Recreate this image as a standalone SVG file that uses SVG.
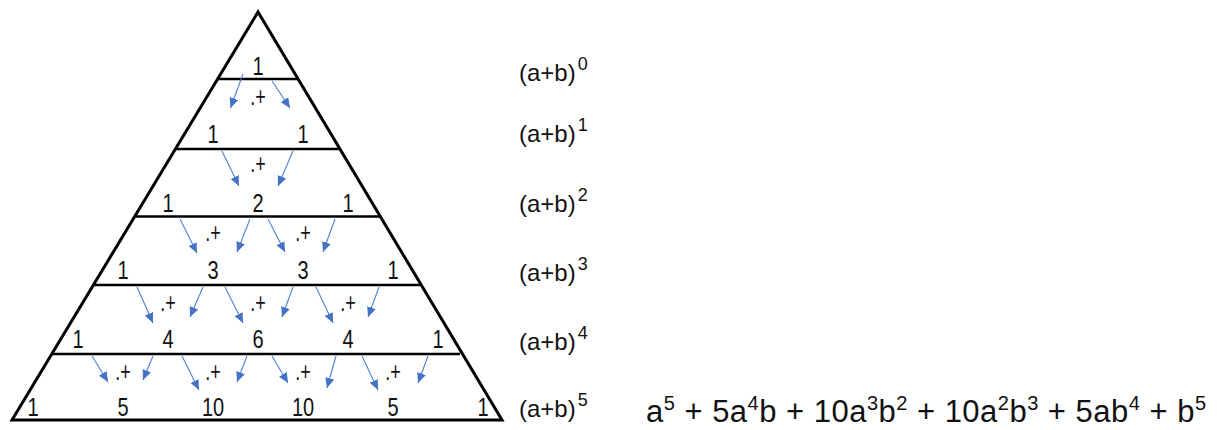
<svg xmlns="http://www.w3.org/2000/svg" width="1220" height="430" viewBox="0 0 1220 430">
<style>
.edge{fill:none;stroke:#000;stroke-width:3;stroke-linejoin:miter}
.rule{stroke:#000;stroke-width:2.6}
.num{font-family:"Liberation Sans",Arial,sans-serif;font-size:25px;fill:#111;text-anchor:middle}
.op{font-family:"Liberation Sans",Arial,sans-serif;font-size:25px;fill:#111;text-anchor:middle}
.lbl{font-family:"Liberation Sans",Arial,sans-serif;font-size:24px;fill:#111}
.sup{font-size:18px}
.f{font-family:"Liberation Sans",Arial,sans-serif;font-size:31px;fill:#111;white-space:pre}
.fs{font-size:20px}
.arr{stroke:#4f7fd0;stroke-width:1.1;fill:none;marker-end:url(#ah)}
</style>
<defs>
<marker id="ah" markerUnits="userSpaceOnUse" markerWidth="11" markerHeight="10" refX="10" refY="4.5" orient="auto"><path d="M0,0 L10,4.5 L0,9 z" fill="#4472C4"/></marker>
</defs>
<rect width="1220" height="430" fill="#fff"/>
<g id="triangle">
<polygon class="edge" points="258,12 12,420 502,420"/>
<line class="rule" x1="218" y1="79" x2="299" y2="79"/>
<line class="rule" x1="175" y1="149" x2="339" y2="149"/>
<line class="rule" x1="135" y1="216.5" x2="380" y2="216.5"/>
<line class="rule" x1="93" y1="285" x2="421" y2="285"/>
<line class="rule" x1="52" y1="354" x2="460" y2="354"/>
</g>
<g id="connectors">
<line class="arr" x1="243" y1="74" x2="230.5" y2="108"/>
<line class="arr" x1="272" y1="81" x2="290" y2="108"/>
<line class="arr" x1="222" y1="151" x2="239" y2="186"/>
<line class="arr" x1="293" y1="151" x2="278" y2="186"/>
<line class="arr" x1="180" y1="219" x2="197" y2="253"/>
<line class="arr" x1="250" y1="219" x2="237" y2="252"/>
<line class="arr" x1="268" y1="219" x2="285" y2="252"/>
<line class="arr" x1="335" y1="219" x2="323" y2="252"/>
<line class="arr" x1="137" y1="287" x2="153" y2="323"/>
<line class="arr" x1="203" y1="287" x2="190" y2="317"/>
<line class="arr" x1="225" y1="287" x2="243" y2="323"/>
<line class="arr" x1="293" y1="287" x2="282" y2="317"/>
<line class="arr" x1="316" y1="287" x2="333" y2="323"/>
<line class="arr" x1="379" y1="287" x2="368" y2="317"/>
<line class="arr" x1="92" y1="356" x2="108" y2="382"/>
<line class="arr" x1="153" y1="356" x2="143" y2="380"/>
<line class="arr" x1="182" y1="356" x2="199" y2="390"/>
<line class="arr" x1="247" y1="356" x2="237" y2="382"/>
<line class="arr" x1="272" y1="356" x2="288" y2="383"/>
<line class="arr" x1="336" y1="356" x2="327" y2="388"/>
<line class="arr" x1="362" y1="356" x2="378" y2="390"/>
<line class="arr" x1="428" y1="356" x2="418" y2="383"/>
</g>
<g id="ops">
<text class="op" transform="translate(258,105) scale(0.72,1)">.+</text>
<text class="op" transform="translate(258,172) scale(0.72,1)">.+</text>
<text class="op" transform="translate(213,241) scale(0.72,1)">.+</text>
<text class="op" transform="translate(303,241) scale(0.72,1)">.+</text>
<text class="op" transform="translate(168,311) scale(0.72,1)">.+</text>
<text class="op" transform="translate(258,311) scale(0.72,1)">.+</text>
<text class="op" transform="translate(348,311) scale(0.72,1)">.+</text>
<text class="op" transform="translate(123,380) scale(0.72,1)">.+</text>
<text class="op" transform="translate(213,380) scale(0.72,1)">.+</text>
<text class="op" transform="translate(303,380) scale(0.72,1)">.+</text>
<text class="op" transform="translate(393,380) scale(0.72,1)">.+</text>
</g>
<g id="r0-0"><text class="num" transform="translate(258,75) scale(0.8,1)">1</text></g>
<g id="r1-0"><text class="num" transform="translate(213,143) scale(0.8,1)">1</text></g>
<g id="r1-1"><text class="num" transform="translate(303,143) scale(0.8,1)">1</text></g>
<g id="r2-0"><text class="num" transform="translate(168,212) scale(0.8,1)">1</text></g>
<g id="r2-1"><text class="num" transform="translate(258,212) scale(0.8,1)">2</text></g>
<g id="r2-2"><text class="num" transform="translate(348,212) scale(0.8,1)">1</text></g>
<g id="r3-0"><text class="num" transform="translate(123,279) scale(0.8,1)">1</text></g>
<g id="r3-1"><text class="num" transform="translate(213,279) scale(0.8,1)">3</text></g>
<g id="r3-2"><text class="num" transform="translate(303,279) scale(0.8,1)">3</text></g>
<g id="r3-3"><text class="num" transform="translate(393,279) scale(0.8,1)">1</text></g>
<g id="r4-0"><text class="num" transform="translate(78,348) scale(0.8,1)">1</text></g>
<g id="r4-1"><text class="num" transform="translate(168,348) scale(0.8,1)">4</text></g>
<g id="r4-2"><text class="num" transform="translate(258,348) scale(0.8,1)">6</text></g>
<g id="r4-3"><text class="num" transform="translate(348,348) scale(0.8,1)">4</text></g>
<g id="r4-4"><text class="num" transform="translate(438,348) scale(0.8,1)">1</text></g>
<g id="r5-0"><text class="num" transform="translate(33,416) scale(0.8,1)">1</text></g>
<g id="r5-1"><text class="num" transform="translate(123,416) scale(0.8,1)">5</text></g>
<g id="r5-2"><text class="num" transform="translate(213,416) scale(0.8,1)">10</text></g>
<g id="r5-3"><text class="num" transform="translate(303,416) scale(0.8,1)">10</text></g>
<g id="r5-4"><text class="num" transform="translate(393,416) scale(0.8,1)">5</text></g>
<g id="r5-5"><text class="num" transform="translate(483,416) scale(0.8,1)">1</text></g>
<g id="labels">
<text class="lbl" x="519" y="81">(a+b)<tspan class="sup" dx="2" dy="-11">0</tspan></text>
<text class="lbl" x="519" y="141.5">(a+b)<tspan class="sup" dx="2" dy="-11">1</tspan></text>
<text class="lbl" x="519" y="211.5">(a+b)<tspan class="sup" dx="2" dy="-11">2</tspan></text>
<text class="lbl" x="519" y="280.5">(a+b)<tspan class="sup" dx="2" dy="-11">3</tspan></text>
<text class="lbl" x="519" y="349.5">(a+b)<tspan class="sup" dx="2" dy="-11">4</tspan></text>
<text class="lbl" x="519" y="416.5">(a+b)<tspan class="sup" dx="2" dy="-11">5</tspan></text>
</g>
<g id="expansion">
<text class="f" x="646" y="422" textLength="560" lengthAdjust="spacing">a<tspan class="fs" dy="-12">5</tspan><tspan dy="12"> + 5a</tspan><tspan class="fs" dy="-12">4</tspan><tspan dy="12">b + 10a</tspan><tspan class="fs" dy="-12">3</tspan><tspan dy="12">b</tspan><tspan class="fs" dy="-12">2</tspan><tspan dy="12"> + 10a</tspan><tspan class="fs" dy="-12">2</tspan><tspan dy="12">b</tspan><tspan class="fs" dy="-12">3</tspan><tspan dy="12"> + 5ab</tspan><tspan class="fs" dy="-12">4</tspan><tspan dy="12"> + b</tspan><tspan class="fs" dy="-12">5</tspan></text>
</g>
</svg>
